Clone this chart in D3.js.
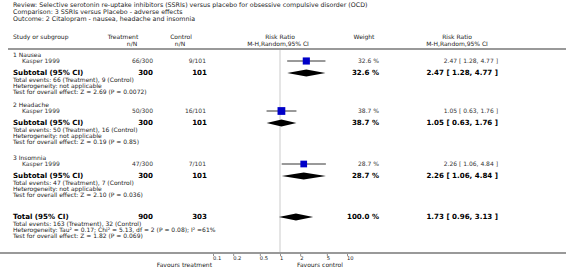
<!DOCTYPE html>
<html>
<head>
<meta charset="utf-8">
<script src="https://cdn.jsdelivr.net/npm/d3@7"></script>
<style>
  body { margin: 0; background: #fff; }
  svg { display: block; font-family: "DejaVu Sans", sans-serif; }
</style>
</head>
<body>
<div id="chart"></div>
<script>
// header text
var titleLines = [
  'Review:  Selective serotonin re-uptake inhibitors (SSRIs) versus placebo for obsessive compulsive disorder (OCD)',
  'Comparison:  3 SSRIs versus Placebo - adverse effects',
  'Outcome:  2 Citalopram - nausea, headache and insomnia'
];

// subgroups
var groups = ['1 Nausea', '2 Headache', '3 Insomnia'];
var studies = ['Kasper 1999', 'Kasper 1999', 'Kasper 1999'];
var treatEvents = [66, 50, 47];
var treatN = [300, 300, 300];
var ctrlEvents = [9, 16, 7];
var ctrlN = [101, 101, 101];
var rr = [2.47, 1.05, 2.26];
var rrLo = [1.28, 0.63, 1.06];
var rrHi = [4.77, 1.76, 4.84];
var weights = [32.6, 38.7, 28.7];
var hetTexts = ['Heterogeneity: not applicable', 'Heterogeneity: not applicable', 'Heterogeneity: not applicable'];
var zTexts = ['Test for overall effect: Z = 2.69 (P = 0.0072)',
              'Test for overall effect: Z = 0.19 (P = 0.85)',
              'Test for overall effect: Z = 2.10 (P = 0.036)'];

// overall
var totalTreat = 163, totalCtrl = 32, totalTreatN = 900, totalCtrlN = 303;
var totalRR = 1.73, totalLo = 0.96, totalHi = 3.13, totalWeight = 100.0;
var totalHet = 'Heterogeneity: Tau\u00b2 = 0.17; Chi\u00b2 = 5.13, df = 2 (P = 0.08); I\u00b2 =61%';
var totalZ = 'Test for overall effect: Z = 1.82 (P = 0.069)';

// axis
var ticks = [0.1, 0.2, 0.5, 1, 2, 5, 10];
var tickLabels = ['0.1', '0.2', '0.5', '1', '2', '5', '10'];

var width = 566, height = 276;
var svg = d3.select('#chart').append('svg')
    .attr('width', width).attr('height', height);

var x = d3.scaleLog().domain([0.1, 10]).range([213, 347]);

var small = 6, bold = 7.1;
var ink = '#222';

function txt(t, xx, yy, opts) {
  opts = opts || {};
  return svg.append('text')
    .attr('x', xx).attr('y', yy)
    .attr('font-size', opts.size || small)
    .attr('font-weight', opts.bold ? 'bold' : null)
    .attr('text-anchor', opts.anchor || 'start')
    .attr('fill', opts.fill || ink)
    .text(t);
}
function fmtCI(a, b, c) { return a.toFixed(2) + ' [ ' + b.toFixed(2) + ', ' + c.toFixed(2) + ' ]'; }

// title
titleLines.forEach(function(t, i) { txt(t, 13, 7 + i * 7, {size: 6.3}); });

// column headers
txt('Study or subgroup', 13, 39);
txt('Treatment', 123, 39, {anchor: 'middle'});
txt('n/N', 132, 46, {anchor: 'middle'});
txt('Control', 181, 39, {anchor: 'middle'});
txt('n/N', 180, 46, {anchor: 'middle'});
txt('Risk Ratio', 280, 39, {anchor: 'middle'});
txt('M-H,Random,95% CI', 278, 46, {anchor: 'middle'});
txt('Weight', 364, 39, {anchor: 'middle'});
txt('Risk Ratio', 457, 39, {anchor: 'middle'});
txt('M-H,Random,95% CI', 457, 46, {anchor: 'middle'});

svg.append('line').attr('x1', 8).attr('x2', 566).attr('y1', 49).attr('y2', 49)
  .attr('stroke', '#999').attr('stroke-width', 2);

// reference line at RR = 1
svg.append('line').attr('x1', x(1)).attr('x2', x(1)).attr('y1', 50).attr('y2', 253)
  .attr('stroke', '#ddd').attr('stroke-width', 1.5);

function diamond(est, lo, hi, cy) {
  var h = 3.5;
  svg.append('polygon')
    .attr('points', [[x(lo), cy], [x(est), cy - h], [x(hi), cy], [x(est), cy + h]].join(' '))
    .attr('fill', '#000');
}

// summary block: bold line plus three small lines underneath
function summary(label, nT, nC, w, est, lo, hi, lines, cy) {
  var o = {size: bold, bold: true, fill: '#000'};
  txt(label, 13, cy + 2, o);
  txt(String(nT), 153, cy + 2, Object.assign({anchor: 'end'}, o));
  txt(String(nC), 207, cy + 2, Object.assign({anchor: 'end'}, o));
  txt(w.toFixed(1) + ' %', 379, cy + 2, Object.assign({anchor: 'end'}, o));
  txt(fmtCI(est, lo, hi), 498, cy + 2, Object.assign({anchor: 'end'}, o));
  diamond(est, lo, hi, cy);
  lines.forEach(function(l, k) { txt(l, 13, cy + 9.3 + k * 5.8); });
}

var groupTop = [55, 105, 158];
groups.forEach(function(g, i) {
  var y0 = groupTop[i];
  txt(g, 13, y0 + 2);
  // study row
  var sy = y0 + 6;
  txt(studies[i], 22, sy + 2, {fill: '#333'});
  txt(treatEvents[i] + '/' + treatN[i], 153, sy + 2, {anchor: 'end', fill: '#333'});
  txt(ctrlEvents[i] + '/' + ctrlN[i], 206, sy + 2, {anchor: 'end', fill: '#333'});
  txt(weights[i].toFixed(1) + ' %', 379, sy + 2, {anchor: 'end', fill: '#333'});
  txt(fmtCI(rr[i], rrLo[i], rrHi[i]), 498, sy + 2, {anchor: 'end', fill: '#333'});
  svg.append('line').attr('x1', x(rrLo[i])).attr('x2', x(rrHi[i]))
    .attr('y1', sy).attr('y2', sy).attr('stroke', '#000').attr('stroke-width', 0.8);
  var s = Math.sqrt(weights[i]) * 1.25;
  svg.append('rect').attr('x', x(rr[i]) - s / 2).attr('y', sy - s / 2)
    .attr('width', s).attr('height', s).attr('fill', '#0000c8');
  summary('Subtotal (95% CI)', treatN[i], ctrlN[i], weights[i], rr[i], rrLo[i], rrHi[i],
    ['Total events: ' + treatEvents[i] + ' (Treatment), ' + ctrlEvents[i] + ' (Control)', hetTexts[i], zTexts[i]],
    y0 + 18);
});

// overall total
summary('Total (95% CI)', totalTreatN, totalCtrlN, totalWeight, totalRR, totalLo, totalHi,
  ['Total events: ' + totalTreat + ' (Treatment), ' + totalCtrl + ' (Control)', totalHet, totalZ], 217);

// bottom axis
svg.append('line').attr('x1', 0).attr('x2', 566).attr('y1', 253).attr('y2', 253)
  .attr('stroke', '#999').attr('stroke-width', 2);
var ax = svg.append('g').attr('transform', 'translate(0,254)')
  .call(d3.axisBottom(x).tickValues(ticks).tickSize(2)
    .tickFormat(function(d, i) { return tickLabels[i]; }));
ax.select('.domain').remove();
ax.selectAll('.tick line').attr('stroke', '#444').attr('stroke-width', 0.6);
ax.selectAll('.tick text').attr('font-size', 5.2).attr('font-family', 'DejaVu Sans')
  .attr('fill', ink).attr('text-anchor', 'start').attr('x', -0.5)
  .attr('y', 5.5).attr('dy', null);

txt('Favours treatment', 212, 267, {anchor: 'end'});
txt('Favours control', 297, 267);
</script>
</body>
</html>
